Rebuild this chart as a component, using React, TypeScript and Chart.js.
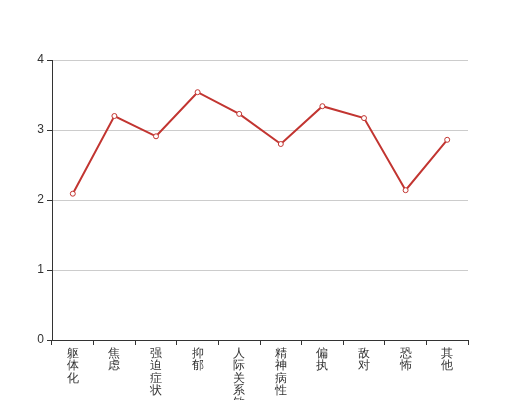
import React, { useEffect, useRef } from "react";
import { Chart, registerables } from "chart.js";

Chart.register(...registerables);

const categories = ["躯体化", "焦虑", "强迫症状", "抑郁", "人际关系敏感", "精神病性", "偏执", "敌对", "恐怖", "其他"];
const scores = [2.09, 3.2, 2.91, 3.54, 3.23, 2.8, 3.34, 3.17, 2.14, 2.86];
const yTicks = [0, 1, 2, 3, 4];

export default function App() {
  const ref = useRef<HTMLCanvasElement>(null);
  useEffect(() => {
    if (!ref.current) return;
    const chart = new Chart(ref.current, {
      type: "line",
      data: {
        labels: categories.map((c) => c.split("")),
        datasets: [
          {
            data: scores,
            borderColor: "#c23531",
            backgroundColor: "#ffffff",
            borderWidth: 2,
            pointRadius: 2.5,
            pointBorderWidth: 1,
            pointBorderColor: "#c23531",
            pointBackgroundColor: "#ffffff",
            tension: 0,
          },
        ],
      },
      options: {
        animation: false,
        responsive: false,
        layout: { padding: { top: 60, right: 52, left: 0, bottom: 0 } },
        plugins: { legend: { display: false }, tooltip: { enabled: false } },
        scales: {
          x: {
            type: "category",
            offset: true,
            grid: {
              offset: true,
              drawOnChartArea: false,
              drawTicks: true,
              tickLength: 5,
              tickColor: "#333",
            },
            border: { display: true, color: "#333", width: 1 },
            ticks: {
              color: "#333",
              font: { family: "sans-serif", size: 12, lineHeight: 1.04 },
              padding: 2,
              maxRotation: 0,
              minRotation: 0,
              autoSkip: false,
            },
            afterFit: (scale: any) => {
              scale.height = 60;
            },
          },
          y: {
            min: 0,
            max: 4,
            afterBuildTicks: (scale: any) => {
              scale.ticks = yTicks.map((v) => ({ value: v }));
            },
            grid: {
              color: "#cccccc",
              lineWidth: 1,
              drawTicks: true,
              tickLength: 5,
              tickColor: "#333",
            },
            border: { display: true, color: "#333", width: 1 },
            ticks: {
              color: "#333",
              font: { family: "sans-serif", size: 12 },
              padding: 3,
            },
            afterFit: (scale: any) => {
              scale.width = 52;
            },
          },
        },
      },
    });
    return () => chart.destroy();
  }, []);
  return (
    <div style={{ position: "fixed", left: 0, top: 0, width: 520, height: 400, background: "#fff" }}>
      <canvas ref={ref} width={520} height={400} style={{ width: 520, height: 400 }} />
    </div>
  );
}
